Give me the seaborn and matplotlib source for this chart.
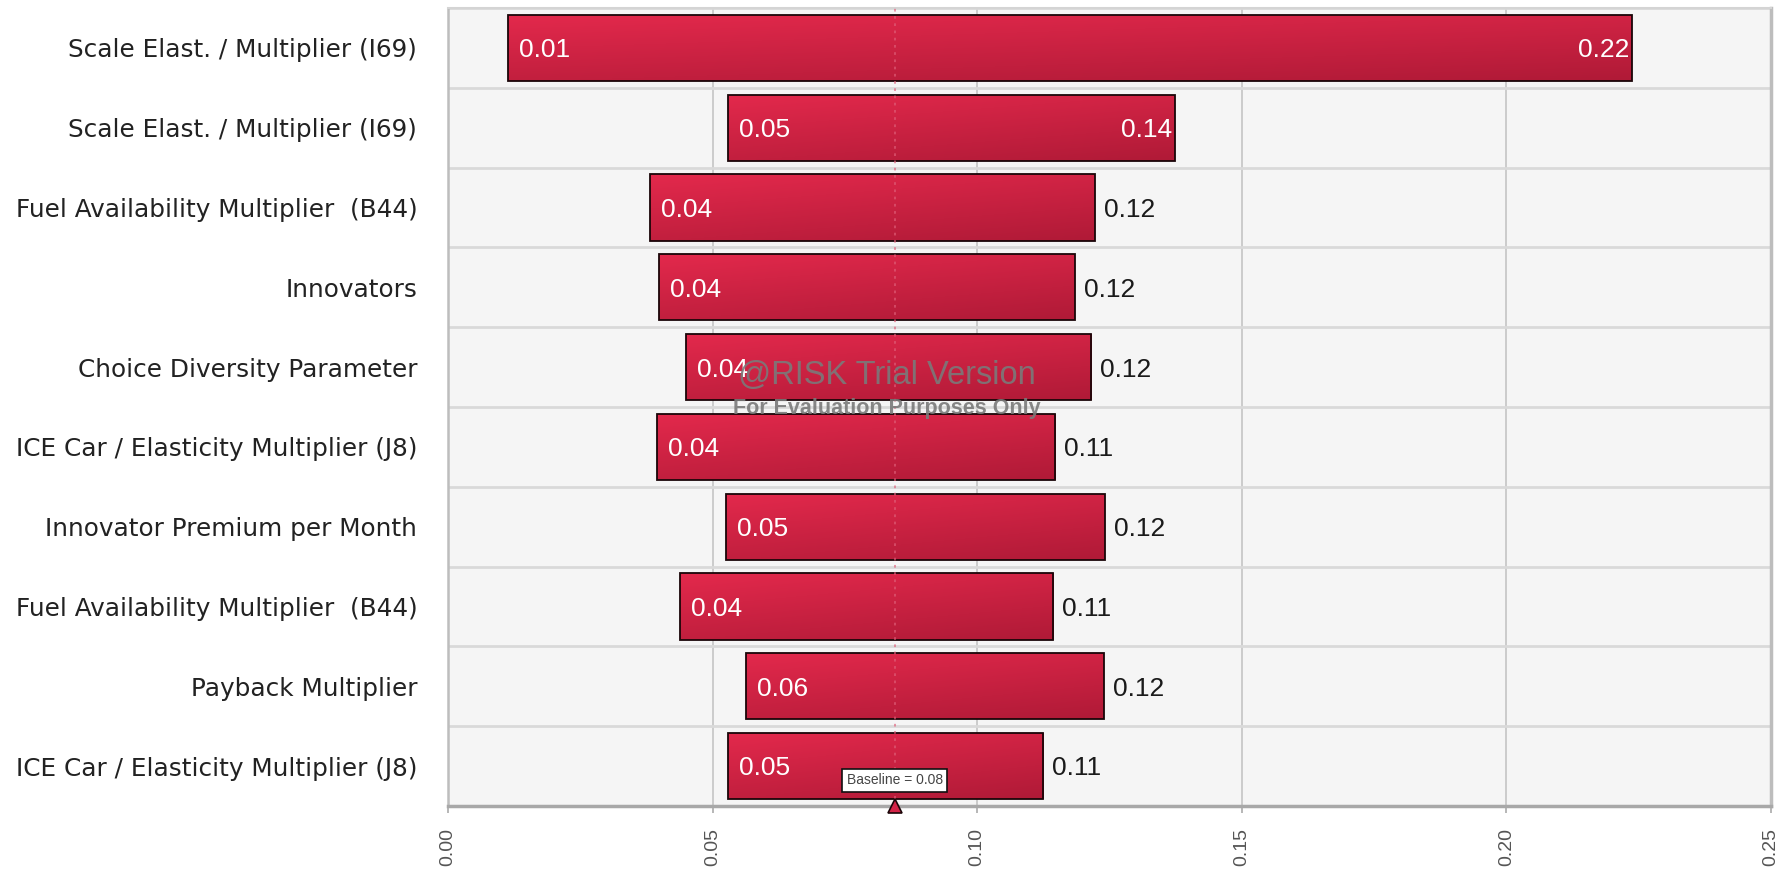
import numpy as np
import pandas as pd
import matplotlib
matplotlib.use("Agg")
import matplotlib.pyplot as plt
import matplotlib.colors as mcolors
import matplotlib.transforms as mtransforms
import seaborn as sns

# Tornado inputs, top to bottom
labels = [
    "Scale Elast. / Multiplier (I69)",
    "Scale Elast. / Multiplier (I69)",
    "Fuel Availability Multiplier  (B44)",
    "Innovators",
    "Choice Diversity Parameter",
    "ICE Car / Elasticity Multiplier (J8)",
    "Innovator Premium per Month",
    "Fuel Availability Multiplier  (B44)",
    "Payback Multiplier",
    "ICE Car / Elasticity Multiplier (J8)",
]
low_values = [0.0114, 0.0529, 0.0382, 0.0399, 0.0449, 0.0395, 0.0525, 0.0438, 0.0563, 0.0529]
high_values = [0.2237, 0.1373, 0.1222, 0.1185, 0.1215, 0.1148, 0.1241, 0.1144, 0.1239, 0.1125]
baseline = 0.0844
x_ticks = [0.00, 0.05, 0.10, 0.15, 0.20, 0.25]

sns.set_theme(style="white")
plt.rcParams["font.family"] = ["DejaVu Sans"]

df = pd.DataFrame({
    "row": list(range(len(labels))),
    "low": low_values,
    "high": high_values,
})
df["span"] = df["high"] - df["low"]

fig = plt.figure(figsize=(17.91, 8.72), dpi=100, facecolor="white")
ax = fig.add_axes([0.2501, 0.0757, 0.9888 - 0.2501, 0.9908 - 0.0757])
ax.set_facecolor("#f5f5f5")

sns.barplot(data=df, x="span", y="row", orient="y", left=df["low"].values,
            width=0.83, color="#cc2442", edgecolor="#1a0508", linewidth=1.3,
            errorbar=None, ax=ax, zorder=3)

# diagonal red gradient fill clipped to each bar
top_col = np.array(mcolors.to_rgb("#e3294c"))
bot_col = np.array(mcolors.to_rgb("#b01a37"))
U, V = np.meshgrid(np.linspace(0, 1, 128), np.linspace(0, 1, 32))
T = 0.35 * U + 0.65 * V
grad = top_col * (1 - T[..., None]) + bot_col * T[..., None]
for p in list(ax.patches):
    bb = p.get_bbox()
    im = ax.imshow(grad, extent=(bb.x0, bb.x1, bb.y1, bb.y0), aspect="auto",
                   origin="upper", interpolation="bilinear", zorder=2.9)
    im.set_clip_path(p)
    p.set_facecolor("none")

ax.set_xlim(x_ticks[0], x_ticks[-1])
ax.set_ylim(len(labels) - 0.5, -0.5)

# grid: vertical at ticks, horizontal between rows
ax.set_xticks(x_ticks)
ax.set_xticklabels([f"{t:.2f}" for t in x_ticks], rotation=90,
                   fontfamily="Liberation Sans", fontsize=14, color="#555555")
ax.set_yticks(range(len(labels)))
ax.set_yticklabels(labels, fontsize=17.8, color="#222222")
ax.set_yticks(np.arange(-0.5, len(labels), 1.0), minor=True)
ax.grid(False)
ax.xaxis.grid(True, which="major", color="#cbcbcb", linewidth=1.4, zorder=0)
ax.yaxis.grid(True, which="minor", color="#d9d9d9", linewidth=2.0, zorder=0)
ax.set_axisbelow(True)
ax.tick_params(axis="y", which="both", length=0, pad=22)
ax.tick_params(axis="x", which="major", length=5, width=1.2, color="#aaaaaa",
               pad=10.5, bottom=True, direction="out")
ax.tick_params(axis="x", which="minor", length=0)
ax.set_xlabel("")
ax.set_ylabel("")

for side, col, lw in [("top", "#d4d4d4", 1.5), ("left", "#bdbdbd", 1.8),
                      ("right", "#bdbdbd", 2.5), ("bottom", "#a8a8a8", 2.5)]:
    ax.spines[side].set_visible(True)
    ax.spines[side].set_color(col)
    ax.spines[side].set_linewidth(lw)

# baseline reference
ax.axvline(baseline, color="#e0607a", linestyle=(0, (1.5, 2.5)), linewidth=1.3,
           alpha=0.7, zorder=4)

# value labels
def shifted(px):
    return ax.transData + mtransforms.ScaledTranslation(px / 100, 0, fig.dpi_scale_trans)

for i, (lo, hi) in enumerate(zip(low_values, high_values)):
    ax.text(lo, i + 0.03, f"{lo:.2f}", ha="left", va="center", color="white",
            fontfamily="Liberation Sans", fontsize=19, zorder=6, transform=shifted(11))
    if hi > 0.13:
        ax.text(hi, i + 0.03, f"{hi:.2f}", ha="right", va="center", color="white",
                fontfamily="Liberation Sans", fontsize=19, zorder=6, transform=shifted(-2))
    else:
        ax.text(hi, i + 0.03, f"{hi:.2f}", ha="left", va="center", color="#1a1a1a",
                fontfamily="Liberation Sans", fontsize=19, zorder=6, transform=shifted(9))

# baseline marker and tag
ax.plot([baseline], [len(labels) - 0.5], marker="^", markersize=10,
        markerfacecolor="#d42347", markeredgecolor="#1a0508", markeredgewidth=1.2,
        clip_on=False, zorder=7, linestyle="none")
blend = mtransforms.blended_transform_factory(ax.transData, ax.transAxes)
ax.text(baseline, 0.032, f"Baseline = {baseline:.2f}", ha="center", va="center",
        fontfamily="Liberation Sans", fontsize=10, color="#444444", zorder=8,
        transform=blend,
        bbox=dict(boxstyle="square,pad=0.3", facecolor="white", edgecolor="#111111",
                  linewidth=1.2))

# trial watermark
fig.text(887 / 1791, 1 - 375 / 872, "@RISK Trial Version", ha="center", va="center",
         fontfamily="Liberation Sans", fontsize=23.5, color="#7a7a7a", alpha=0.9, zorder=20)
fig.text(887 / 1791, 1 - 408 / 872, "For Evaluation Purposes Only", ha="center", va="center",
         fontfamily="Liberation Sans", fontweight="bold", fontsize=15.5, color="#7a7a7a",
         alpha=0.9, zorder=20)

fig.savefig("out.png", dpi=100, facecolor="white")
